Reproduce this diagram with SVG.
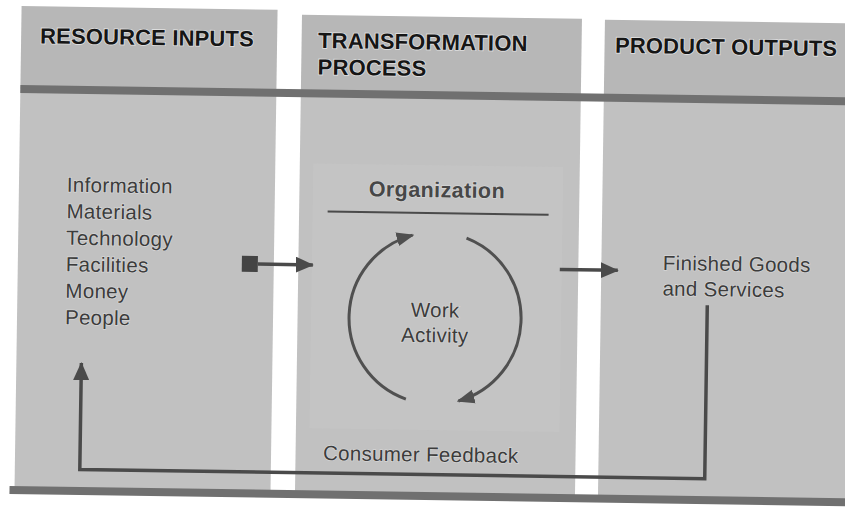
<svg xmlns="http://www.w3.org/2000/svg" width="845" height="508" viewBox="0 0 845 508">
  <style>
    .head { fill: #b7b7b7; }
    .body { fill: #c1c1c1; }
    .bar { fill: #707070; }
    .title { font-family: "Liberation Sans", Arial, sans-serif; font-weight: bold; font-size: 22px; letter-spacing: 0.15px; fill: #161616; stroke: #dedede; stroke-width: 1.6px; paint-order: stroke; }
    .label { font-family: "Liberation Sans", Arial, sans-serif; font-size: 20.5px; letter-spacing: 0.3px; fill: #3c3c3c; stroke: #d6d6d6; stroke-width: 1.4px; paint-order: stroke; }
    .org { font-family: "Liberation Sans", Arial, sans-serif; font-weight: bold; font-size: 21.5px; letter-spacing: 0.4px; fill: #474747; stroke: #d6d6d6; stroke-width: 1.4px; paint-order: stroke; }
    .wire { fill: none; stroke: #4a4a4a; stroke-width: 3.5; }
    .arc { fill: none; stroke: #505050; stroke-width: 3; }
  </style>
  <defs>
    <marker id="head" markerWidth="18" markerHeight="16" refX="17" refY="8" orient="auto" markerUnits="userSpaceOnUse">
      <path d="M0,0 L18,8 L0,16 Z" fill="#4a4a4a"/>
    </marker>
    <marker id="arcHead" markerWidth="18" markerHeight="16" refX="16" refY="8" orient="auto" markerUnits="userSpaceOnUse">
      <path d="M0,1 L18,8 L0,15 Z" fill="#505050"/>
    </marker>
  </defs>
  <rect width="845" height="508" fill="#ffffff"/>
  <g transform="rotate(0.84 422 254)">
    <!-- Resource inputs column -->
    <g id="resource-inputs">
      <rect class="head" x="18" y="12" width="256" height="83"/>
      <rect class="body" x="18" y="95" width="256" height="402"/>
      <text class="title" x="37" y="49">RESOURCE INPUTS</text>
      <text class="label" x="66" y="197">Information</text>
      <text class="label" x="66" y="223.5">Materials</text>
      <text class="label" x="66" y="250">Technology</text>
      <text class="label" x="66" y="276.5">Facilities</text>
      <text class="label" x="66" y="303">Money</text>
      <text class="label" x="66" y="329.5">People</text>
    </g>
    <!-- Transformation process column -->
    <g id="transformation-process">
      <rect class="head" x="298.5" y="16.5" width="280" height="78.5"/>
      <rect class="body" x="298.5" y="95" width="280" height="402"/>
      <rect x="312" y="165" width="250" height="265" fill="#c4c4c4"/>
      <text class="title" x="315" y="49.5">TRANSFORMATION</text>
      <text class="title" x="315" y="76">PROCESS</text>
    </g>
    <g id="organization">
      <text class="org" x="436" y="197" text-anchor="middle">Organization</text>
      <line x1="327" y1="213" x2="548" y2="213" stroke="#4a4a4a" stroke-width="2"/>
    </g>
    <g id="work-activity">
      <path class="arc" d="M408,399.3 A86,86 0 0 1 412.3,235.3" marker-end="url(#arcHead)"/>
      <path class="arc" d="M466.3,237.5 A86,86 0 0 1 460.6,400.4" marker-end="url(#arcHead)"/>
      <text class="label" x="436" y="317" text-anchor="middle">Work</text>
      <text class="label" x="436" y="342" text-anchor="middle">Activity</text>
    </g>
    <g id="consumer-feedback">
      <text class="label" x="326" y="461.5">Consumer Feedback</text>
    </g>
    <!-- Product outputs column -->
    <g id="product-outputs">
      <rect class="head" x="601.5" y="17" width="260" height="78"/>
      <rect class="body" x="601.5" y="95" width="260" height="402"/>
      <text class="title" x="612" y="50">PRODUCT OUTPUTS</text>
      <text class="label" x="663" y="266.5">Finished Goods</text>
      <text class="label" x="663" y="292">and Services</text>
    </g>
    <!-- horizontal rules -->
    <rect class="bar" x="18" y="91" width="845" height="8"/>
    <rect class="bar" x="13" y="492" width="850" height="8"/>
    <!-- connectors -->
    <g id="connectors">
      <rect x="242" y="258.5" width="16" height="16" fill="#444"/>
      <line class="wire" x1="258" y1="266.5" x2="313" y2="266.5" marker-end="url(#head)"/>
      <line class="wire" x1="560" y1="267.5" x2="618" y2="267.5" marker-end="url(#head)"/>
      <path class="wire" d="M708,301 L708,474.5 L83,474.5 L83,368" marker-end="url(#head)"/>
    </g>
  </g>
</svg>
